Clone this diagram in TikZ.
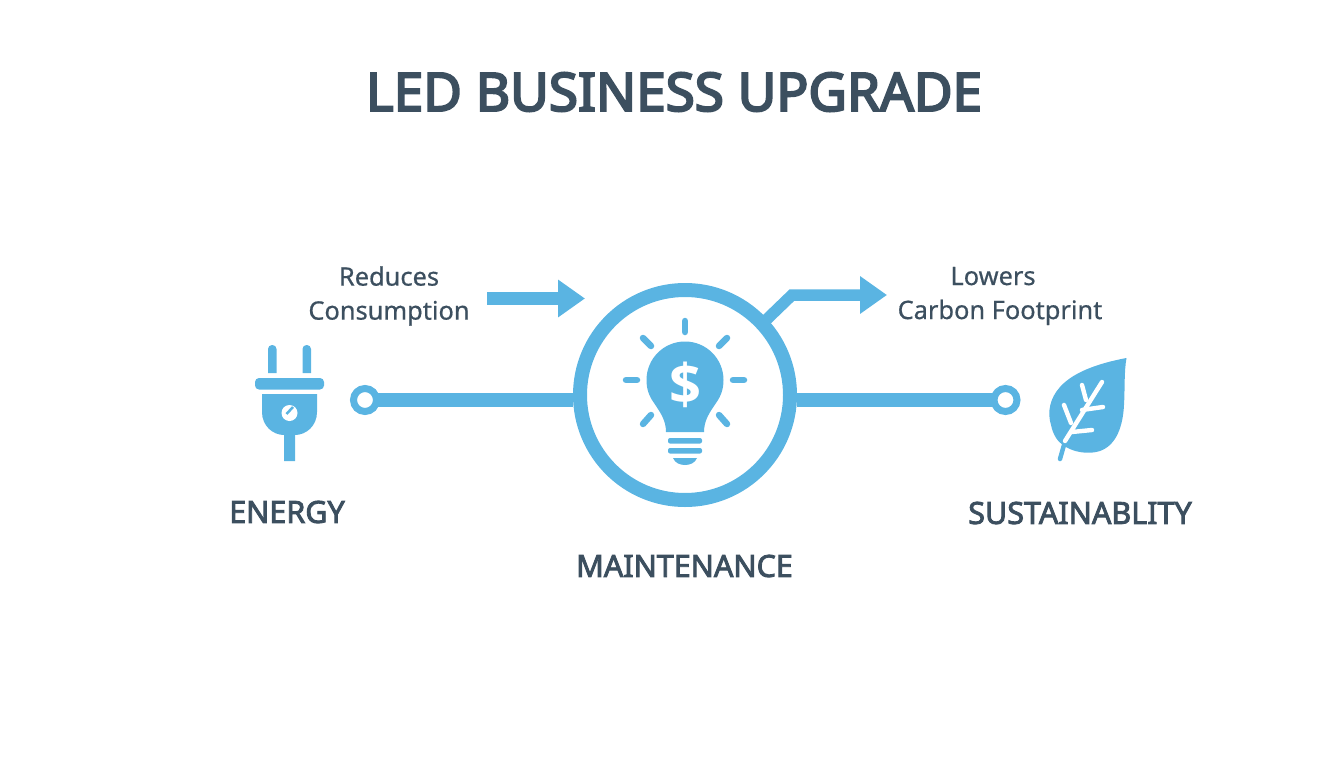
\documentclass[tikz,border=0pt]{standalone}
\usepackage{fontspec}
\setmainfont{Noto Sans}
\newfontfamily\dollarfont[BoldFont={Open Sans Bold}]{Open Sans}
\newfontfamily\headfont[FakeBold=4]{Noto Sans}
\newfontfamily\capfont[FakeBold=2.8]{Noto Sans}
\newfontfamily\remfont[FakeBold=0.6]{Noto Sans}
\usepackage{tikz}
\usetikzlibrary{arrows.meta}
\usetikzlibrary{positioning}
\definecolor{ledblue}{HTML}{5AB4E2}
\definecolor{ledink}{HTML}{3C4F5F}
\tikzstyle{wire}=[draw=ledblue, line width=14pt, shorten <=-5pt]
\tikzstyle{ring}=[circle, draw=ledblue, fill=white, line width=7pt, inner sep=0pt, minimum size=23pt]
\tikzstyle{flow}=[draw=ledblue, -{Triangle[length=27pt,width=36pt]}]
\tikzstyle{ray}=[draw=ledblue, line width=6.5pt, line cap=round]
\tikzstyle{vein}=[draw=white, line width=4.4pt, line cap=round]
\tikzstyle{heading}=[text=ledink, inner sep=0pt, font=\headfont\fontsize{53pt}{60pt}\selectfont]
\tikzstyle{caption}=[text=ledink, inner sep=0pt, font=\capfont\fontsize{30.5pt}{34pt}\selectfont]
\tikzstyle{remark}=[text=ledink, inner sep=0pt, align=center, font=\remfont\fontsize{25.4pt}{34pt}\selectfont]
\begin{document}
\begin{tikzpicture}[x=1pt,y=-1pt]
              \useasboundingbox (0,0) rectangle (1344,768);
              \node[heading] (title) at (674,92){LED BUSINESS UPGRADE};
              \node[remark] (reduces) at (389,296){Reduces\\Consumption};
              \node[remark] (lowers) at (1000,296){\hspace*{-14pt}Lowers\\Carbon Footprint};
              \node[caption] (energy) at (287,512){ENERGY};
              \node[caption] (maintenance) at (684.5,566){MAINTENANCE};
              \node[caption] (sustainability) at (1080,513){SUSTAINABLITY};
              \node[circle, draw=ledblue, line width=14pt, inner sep=0pt, minimum size=210pt] (hub) at (685,395){};
              \node[ring] (ringleft) at (365,400){};
              \node[ring] (ringright) at (1005.5,400){};
              \coordinate (reducestail) at (487,298.5);
              \coordinate (reducestip) at (585,298.5);
              \coordinate (hubexit) at (764,322);
              \coordinate (bend) at (792,295);
              \coordinate (lowerstip) at (887,295);
              \draw[wire](ringleft) -- (ringleft -| hub.west);
              \draw[wire](ringright) -- (ringright -| hub.east);
              \draw[flow, line width=13pt](reducestail) -- (reducestip);
              \draw[flow, line width=11.5pt](hubexit) -- (bend) -- (lowerstip);
              \fill[ledblue] (268,373) [rounded corners=4pt] -- (268,345) -- (276.5,345) [sharp corners] -- (276.5,373) -- cycle;
              \fill[ledblue] (302.5,373) [rounded corners=4pt] -- (302.5,345) -- (311,345) [sharp corners] -- (311,373) -- cycle;
              \fill[ledblue, rounded corners=4pt] (255,378) rectangle (324,389.5);
              \fill[ledblue] (262,394) -- (317,394) -- (317,412) .. controls (317,426) and (306,435) .. (295,435) -- (295,461) -- (284,461) -- (284,435) .. controls (273,435) and (262,426) .. (262,412) -- cycle;
              \fill[white] (289.5,413) circle (8);
              \draw[ledblue, line width=2.5pt] (286.5,414) -- (293,407);
              \fill[ledblue] (666,432) -- (704,432) .. controls (704,420) and (710,412) .. (716,403) .. controls (721,396) and (723.5,389) .. (723.5,380) .. controls (723.5,358.7) and (706.3,341.5) .. (685,341.5) .. controls (663.7,341.5) and (646.5,358.7) .. (646.5,380) .. controls (646.5,389) and (649,396) .. (654,403) .. controls (660,412) and (666,420) .. (666,432) -- cycle;
              \node[text=white, inner sep=0pt, font=\dollarfont\fontsize{56pt}{60pt}\selectfont\bfseries] (dollar) at (685,385){\$};
              \fill[ledblue, rounded corners=2pt] (668,438) rectangle (702,443.5);
              \fill[ledblue, rounded corners=2pt] (668,448) rectangle (702,453.5);
              \fill[ledblue] (673,458) -- (697,458) .. controls (695,463) and (690,465) .. (685,465) .. controls (680,465) and (675,463) .. (673,458) -- cycle;
              \draw[ray] (685,321) -- (685,332);
              \draw[ray] (626,380) -- (637,380);
              \draw[ray] (733,380) -- (744,380);
              \draw[ray] (643,338) -- (651,346);
              \draw[ray] (727,338) -- (719,346);
              \draw[ray] (651,415) -- (643,424);
              \draw[ray] (719,415) -- (727,424);
              \fill[ledblue] (1126.5,358) .. controls (1105,362) and (1075,370) .. (1060,387) .. controls (1050,398) and (1047,412) .. (1051,425) .. controls (1053,435) and (1058,442) .. (1063,445) .. controls (1072,452) and (1088,455) .. (1100,451) .. controls (1117,445) and (1123,425) .. (1124,405) .. controls (1125,388) and (1124,372) .. (1126.5,358) -- cycle;
              \draw[ledblue, line width=4.5pt, line cap=round] (1064,445) -- (1060,459);
              \draw[vein] (1102,382) -- (1065,441);
              \draw[vein] (1082,385) -- (1086,400);
              \draw[vein] (1064,405) -- (1071,423);
              \draw[vein] (1103,407) -- (1082,410);
              \draw[vein] (1092,430) -- (1072,432);
            \end{tikzpicture}
\end{document}
